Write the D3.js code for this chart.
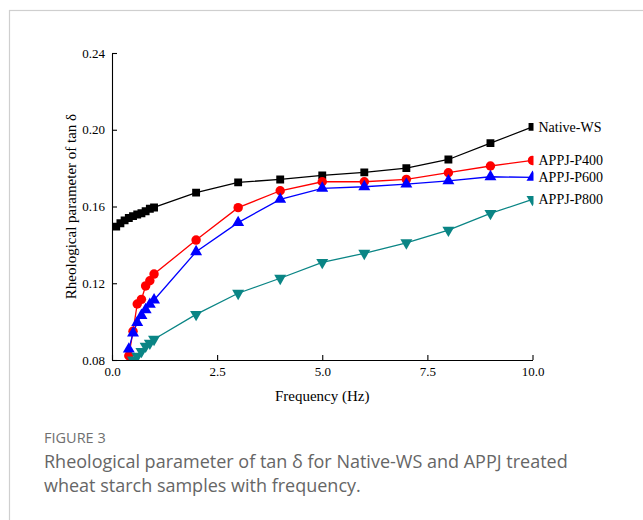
<!DOCTYPE html>
<html>
<head>
<meta charset="utf-8">
<script src="https://cdn.jsdelivr.net/npm/d3@7"></script>
<style>
  html, body { margin: 0; padding: 0; background: #fff; }
  svg { display: block; }
</style>
</head>
<body>
<svg id="chart" width="643" height="520"></svg>
<script>
// ---- data ----
const freqLow = [0.1, 0.2, 0.3, 0.4, 0.5, 0.6, 0.7, 0.8, 0.9, 1.0];
const freqHigh = [2, 3, 4, 5, 6, 7, 8, 9, 10];

const nativeFreq = freqLow.concat(freqHigh);
const nativeWS = [0.1495, 0.1513, 0.1528, 0.1540, 0.1550, 0.1558, 0.1565, 0.1575, 0.1588, 0.1595,
                  0.1672, 0.1726, 0.1741, 0.1762, 0.1778, 0.1800, 0.1845, 0.1930, 0.2015];

const p400Freq = [0.4, 0.5, 0.6, 0.7, 0.8, 0.9, 1.0].concat(freqHigh);
const p400 = [0.0822, 0.0950, 0.1092, 0.1116, 0.1186, 0.1213, 0.1248,
              0.1425, 0.1594, 0.1682, 0.1729, 0.1729, 0.1741, 0.1776, 0.1811, 0.1840];

const p600Freq = [0.4, 0.5, 0.6, 0.7, 0.8, 0.9, 1.0].concat(freqHigh);
const p600 = [0.0857, 0.0940, 0.0995, 0.1032, 0.1062, 0.1090, 0.1113,
              0.1364, 0.1516, 0.1637, 0.1695, 0.1703, 0.1717, 0.1734, 0.1755, 0.1752];

const p800Freq = [0.5, 0.6, 0.7, 0.8, 0.9, 1.0].concat(freqHigh);
const p800 = [0.0800, 0.0820, 0.0845, 0.0872, 0.0888, 0.0908,
              0.1038, 0.1148, 0.1226, 0.1309, 0.1356, 0.1411, 0.1477, 0.1564, 0.1637];

const seriesNames = ["Native-WS", "APPJ-P400", "APPJ-P600", "APPJ-P800"];
const xTicks = [0, 2.5, 5, 7.5, 10];
const yTicks = [0.08, 0.12, 0.16, 0.20, 0.24];

const xLabel = "Frequency (Hz)";
const yLabel = "Rheological parameter of tan δ";
const figLabel = "FIGURE 3";
const captionLines = ["Rheological parameter of tan δ for Native-WS and APPJ treated",
                      "wheat starch samples with frequency."];

// ---- drawing ----
const svg = d3.select("#chart");
const serif = "'Liberation Serif', 'Times New Roman', serif";
const sans = "'Open Sans', Lato, sans-serif";

// frame
svg.append("rect").attr("x", 9.5).attr("y", 10.5).attr("width", 700).attr("height", 600)
  .attr("fill", "none").attr("stroke", "#cfcfcf").attr("stroke-width", 1.2);

const x = d3.scaleLinear().domain([0, 10]).range([112, 532.5]);
const y = d3.scaleLinear().domain([0.08, 0.24]).range([360, 53]);

svg.append("defs").append("clipPath").attr("id", "plotclip")
  .append("rect").attr("x", x(0)).attr("y", y(0.24)).attr("width", x(10) - x(0) + 1)
  .attr("height", y(0.08) - y(0.24));

const series = [
  { name: seriesNames[0], fx: nativeFreq, v: nativeWS, color: "#000000", sym: d3.symbolSquare, size: 62, rot: 0 },
  { name: seriesNames[1], fx: p400Freq, v: p400, color: "#ff0000", sym: d3.symbolCircle, size: 70, rot: 0 },
  { name: seriesNames[2], fx: p600Freq, v: p600, color: "#0000ff", sym: d3.symbolTriangle, size: 62, rot: 0 },
  { name: seriesNames[3], fx: p800Freq, v: p800, color: "#0a8585", sym: d3.symbolTriangle, size: 62, rot: 180 }
];

const plot = svg.append("g").attr("clip-path", "url(#plotclip)");
const line = d3.line().x(d => x(d[0])).y(d => y(d[1]));

series.forEach(s => {
  const pts = s.fx.map((f, i) => [f, s.v[i]]);
  plot.append("path").datum(pts).attr("d", line)
    .attr("fill", "none").attr("stroke", s.color).attr("stroke-width", 1.3);
  plot.selectAll(null).data(pts).enter().append("path")
    .attr("d", d3.symbol().type(s.sym).size(s.size))
    .attr("transform", d => `translate(${x(d[0])},${y(d[1])}) rotate(${s.rot})`)
    .attr("fill", s.color);
  const last = pts[pts.length - 1];
  svg.append("text").attr("x", x(last[0]) + 6).attr("y", y(last[1]))
    .attr("dy", "0.35em").attr("font-family", serif).attr("font-size", 14)
    .attr("fill", "#000").text(s.name);
});

// axes
const xAxis = d3.axisBottom(x).tickValues(xTicks).tickFormat(d3.format(".1f"))
  .tickSizeInner(-5).tickSizeOuter(0).tickPadding(7);
const yAxis = d3.axisLeft(y).tickValues(yTicks).tickFormat(d3.format(".2f"))
  .tickSizeInner(-5).tickSizeOuter(0).tickPadding(7);

const gx = svg.append("g").attr("transform", `translate(0,${y(0.08)})`).call(xAxis);
const gy = svg.append("g").attr("transform", `translate(${x(0)},0)`).call(yAxis);
[gx, gy].forEach(g => {
  g.selectAll("text").attr("font-family", serif).attr("font-size", 13).attr("fill", "#000");
  g.selectAll("line,path").attr("stroke", "#000").attr("stroke-width", 1.1);
});

svg.append("text").attr("x", (x(0) + x(10)) / 2).attr("y", 401)
  .attr("text-anchor", "middle").attr("font-family", serif).attr("font-size", 15)
  .text(xLabel);
svg.append("text").attr("transform", `translate(76,${(y(0.08) + y(0.24)) / 2}) rotate(-90)`)
  .attr("text-anchor", "middle").attr("font-family", serif).attr("font-size", 15)
  .text(yLabel);

// caption
svg.append("text").attr("x", 44).attr("y", 443)
  .attr("font-family", sans).attr("font-size", 14.5)
  .attr("fill", "#707070").text(figLabel);
captionLines.forEach((t, i) => {
  svg.append("text").attr("x", 44).attr("y", 468 + i * 23.5)
    .attr("font-family", sans).attr("font-size", 18)
    .attr("fill", "#666666").text(t);
});
</script>
</body>
</html>
